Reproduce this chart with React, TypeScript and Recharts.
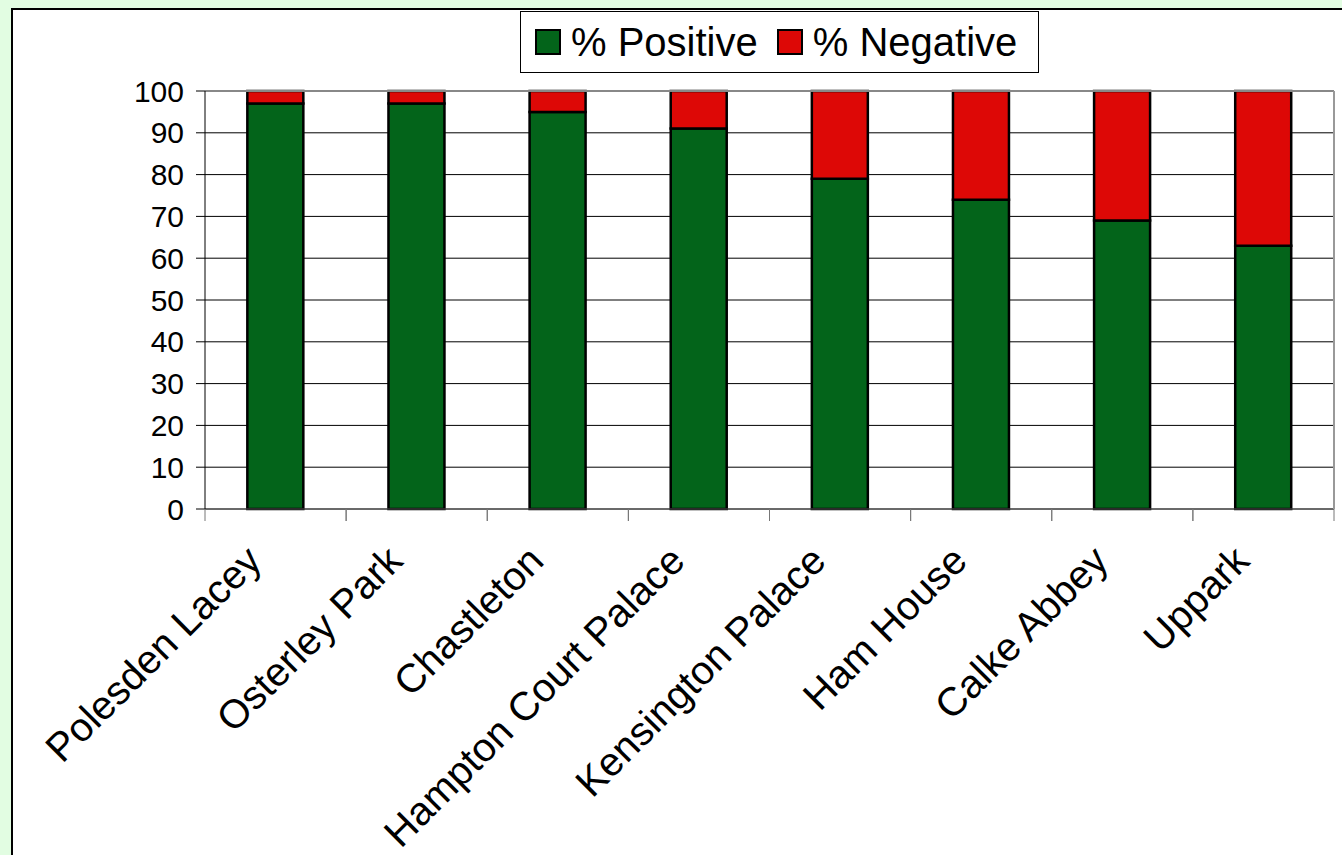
import React from 'react'
import {
  BarChart,
  Bar,
  XAxis,
  YAxis,
  CartesianGrid,
  ReferenceLine,
} from 'recharts'

// Visitor sentiment per property, in percent
const houses = [
  'Polesden Lacey',
  'Osterley Park',
  'Chastleton',
  'Hampton Court Palace',
  'Kensington Palace',
  'Ham House',
  'Calke Abbey',
  'Uppark',
]
const positive = [97, 97, 95, 91, 79, 74, 69, 63]
const negative = [3, 3, 5, 9, 21, 26, 31, 37]
const yTicks = [0, 10, 20, 30, 40, 50, 60, 70, 80, 90, 100]

const series = [
  { key: 'positive', name: '% Positive', color: '#03641A' },
  { key: 'negative', name: '% Negative', color: '#DD0806' },
]

const data = houses.map((house, i) => ({
  house,
  positive: positive[i],
  negative: negative[i],
}))

const FONT = '"Liberation Sans", Arial, sans-serif'

// rotated category label, plus tick marks on the category boundaries
const HouseTick = ({ x, y, payload }: any) => {
  const half = payload.offset || 0
  return (
    <g>
      {half > 0 && (
        <>
          <line x1={x - half} x2={x - half} y1={y} y2={y + 12} stroke="#777" />
          <line x1={x + half} x2={x + half} y1={y} y2={y + 12} stroke="#777" />
        </>
      )}
      <g transform={`translate(${x - 12},${y + 54}) rotate(-45)`}>
        <text
          x={0}
          y={0}
          textAnchor="end"
          fontSize={40}
          fontFamily={FONT}
          fill="#000"
        >
          {payload.value}
        </text>
      </g>
    </g>
  )
}

const LegendBox = () => (
  <div
    style={{
      position: 'absolute',
      left: 520,
      top: 11,
      width: 519,
      height: 62,
      border: '1px solid #000',
      background: '#fff',
      display: 'flex',
      alignItems: 'center',
      paddingLeft: 14,
      boxSizing: 'border-box',
      fontFamily: FONT,
      fontSize: 40,
      color: '#000',
    }}
  >
    {series.map((s) => (
      <div
        key={s.key}
        style={{ display: 'flex', alignItems: 'center', marginRight: 19 }}
      >
        <span
          style={{
            width: 22,
            height: 22,
            background: s.color,
            border: '2px solid #000',
            marginRight: 10,
            display: 'inline-block',
          }}
        />
        <span style={{ lineHeight: 1 }}>{s.name}</span>
      </div>
    ))}
  </div>
)

export default function App() {
  return (
    <div
      style={{
        position: 'fixed',
        left: 0,
        top: 0,
        width: 1342,
        height: 855,
        background: '#E2FDE2',
        overflow: 'hidden',
      }}
    >
      <div
        style={{
          position: 'absolute',
          left: 11,
          top: 8,
          width: 1400,
          height: 900,
          background: '#fff',
          borderLeft: '2px solid #000',
          borderTop: '2px solid #000',
        }}
      />
      <BarChart
        width={1342}
        height={855}
        data={data}
        margin={{ top: 91, right: 7, left: 145, bottom: 345 }}
        barCategoryGap="30%"
        style={{ position: 'absolute', left: 0, top: 0 }}
      >
        <CartesianGrid vertical={false} stroke="#000" strokeWidth={1} />
        <XAxis
          dataKey="house"
          height={1}
          axisLine={{ stroke: '#555' }}
          tickLine={false}
          tickSize={0}
          tickMargin={0}
          interval={0}
          tick={<HouseTick />}
        />
        <YAxis
          width={60}
          domain={[0, 100]}
          ticks={yTicks}
          interval={0}
          tickSize={9}
          tickMargin={12}
          axisLine={{ stroke: '#000' }}
          tickLine={{ stroke: '#000' }}
          tick={{ fontSize: 30, fontFamily: FONT, fill: '#000' }}
        />
        <YAxis
          yAxisId="frame"
          orientation="right"
          width={1}
          tick={false}
          tickLine={false}
          axisLine={{ stroke: '#999', strokeWidth: 2 }}
        />
        <ReferenceLine y={100} stroke="#888" strokeWidth={2} />
        {series.map((s) => (
          <Bar
            key={s.key}
            dataKey={s.key}
            name={s.name}
            stackId="a"
            fill={s.color}
            stroke="#000"
            strokeWidth={2.5}
            isAnimationActive={false}
          />
        ))}
      </BarChart>
      <LegendBox />
    </div>
  )
}
